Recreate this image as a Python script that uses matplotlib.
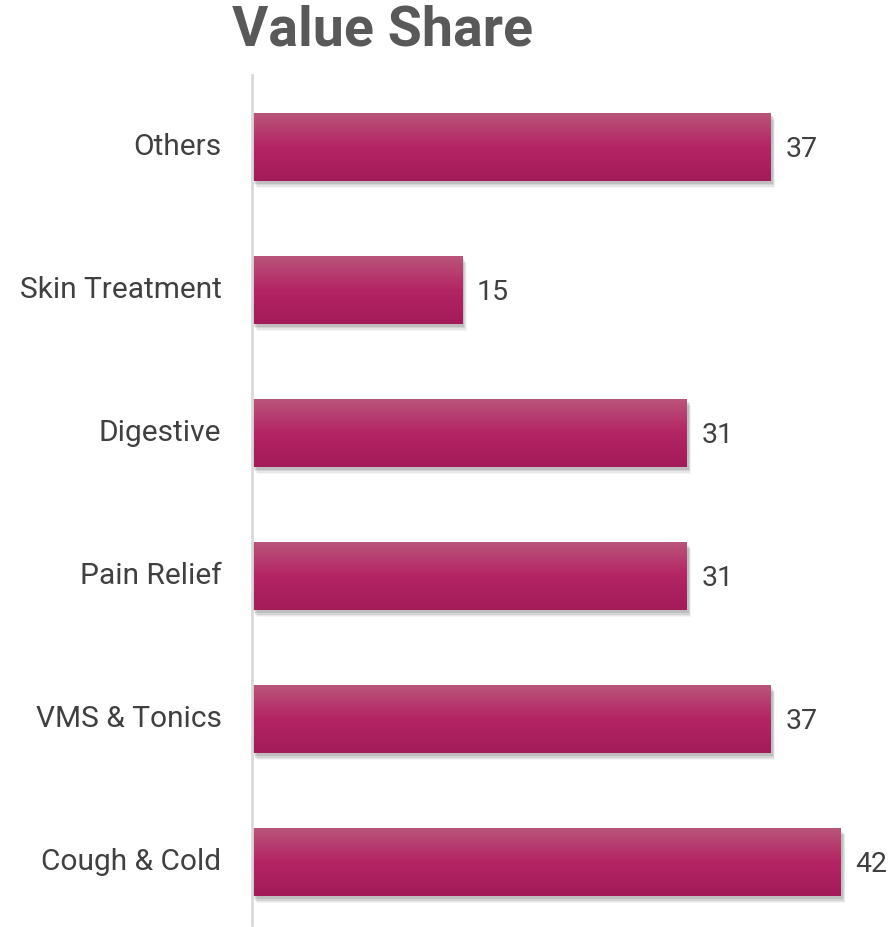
import numpy as np
import matplotlib
matplotlib.use("Agg")
from matplotlib import pyplot as plt
from matplotlib.colors import LinearSegmentedColormap
from matplotlib.patches import Rectangle
from matplotlib import transforms

categories = ["Cough & Cold", "VMS & Tonics", "Pain Relief", "Digestive", "Skin Treatment", "Others"]
values = [42, 37, 31, 31, 15, 37]

plt.rcParams['font.family'] = ['Roboto', 'DejaVu Sans']

fig = plt.figure(figsize=(8.92, 9.27), dpi=100)
ax = fig.add_axes([252 / 892, 2 / 927, 1 - 252 / 892, (925 - 75) / 927])

cmap = LinearSegmentedColormap.from_list("bar", ["#a31b59", "#b42464", "#b9557a"])
grad = np.linspace(0, 1, 256).reshape(-1, 1)
bar_h = 0.475

for i, v in enumerate(values):
    y0 = i - bar_h / 2
    # soft shadow below/right
    for k, a in enumerate([0.10, 0.08, 0.06, 0.04]):
        off = transforms.offset_copy(ax.transData, fig=fig, x=1.5 + k * 0.6, y=-(2.5 + k * 0.9), units='points')
        ax.add_patch(Rectangle((0, y0), v, bar_h, facecolor='#000000', alpha=a,
                               edgecolor='none', transform=off, zorder=1))
    ax.imshow(grad, extent=[0, v, y0, y0 + bar_h], origin='lower', aspect='auto',
              cmap=cmap, zorder=2, interpolation='bilinear')
    ax.text(v + 1.05, i - 0.02, str(v), va='center', ha='left', fontsize=20.5, color='#404040')

ax.set_xlim(0, 640 / 14.02)
ax.set_ylim(-0.44, 5.5)
ax.set_yticks(range(len(categories)))
ax.set_yticklabels(categories, fontsize=21.5, color='#404040')
for lbl in ax.get_yticklabels():
    lbl.set_va('center')
ax.tick_params(axis='y', length=0, pad=22)
ax.set_xticks([])
for s in ['top', 'right', 'bottom']:
    ax.spines[s].set_visible(False)
ax.spines['left'].set_color('#d9d9d9')
ax.spines['left'].set_linewidth(2)
ax.spines['left'].set_zorder(3)

fig.text(383 / 892, 1 - 31 / 927, "Value Share", ha='center', va='center',
         fontsize=40, fontweight='bold', color='#595959')

fig.savefig("out.png", dpi=100)
